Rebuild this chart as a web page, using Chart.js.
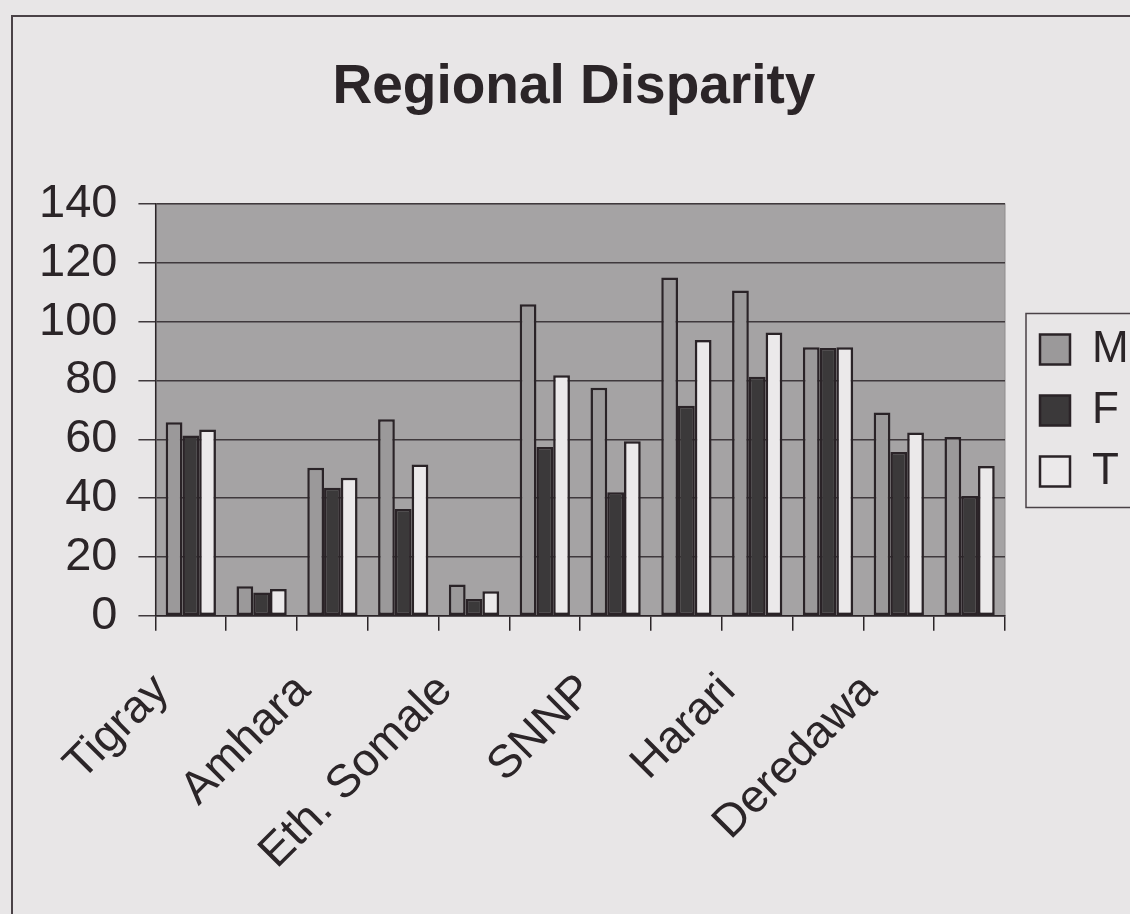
<!DOCTYPE html>
<html>
<head>
<meta charset="utf-8">
<title>Regional Disparity</title>
<script src="https://cdn.jsdelivr.net/npm/chart.js@4/dist/chart.umd.min.js"></script>
<style>
  html, body { margin: 0; padding: 0; background: #e8e6e7; overflow: hidden; }
  #frame {
    position: absolute; left: 11px; top: 15px; width: 1200px; height: 1000px;
    border: 2px solid #4a4247; box-sizing: border-box;
  }
  #wrap { position: absolute; left: 0; top: 0; width: 1130px; height: 914px; }
</style>
</head>
<body>
<div id="frame"></div>
<div id="wrap"><canvas id="chart" width="1130" height="914"></canvas></div>
<script>
// Regions (every other name is printed on the axis)
const regions = ['Tigray', 'Afar', 'Amhara', 'Oromia', 'Eth. Somale', 'Benishangul',
                 'SNNP', 'Gambella', 'Harari', 'Addis Ababa', 'Deredawa', 'Total'];

// Series values
const maleValues   = [65.8, 10.0, 50.3, 66.8, 10.6, 105.9, 77.5, 115.0, 110.6, 91.3, 69.1, 60.8];
const femaleValues = [61.3,  7.9, 43.5, 36.3,  5.7,  57.4, 42.0,  71.4,  81.3, 91.0, 55.7, 40.7];
const totalValues  = [63.3,  9.1, 46.9, 51.4,  8.3,  81.8, 59.3,  93.8,  96.3, 91.3, 62.3, 50.9];

// Value axis ticks
const yTicks = [0, 20, 40, 60, 80, 100, 120, 140];

const FONT = "'Liberation Sans', Arial, Helvetica, sans-serif";
const INK = '#2b2528';
const EDGE = '#2a2327';

// Grey plot-area fill behind the bars
const plotBackground = {
  id: 'plotBackground',
  beforeDraw(chart) {
    const { ctx, chartArea: a } = chart;
    ctx.save();
    ctx.fillStyle = '#a5a3a4';
    ctx.fillRect(a.left, a.top, a.right - a.left, a.bottom - a.top);
    ctx.strokeStyle = '#8f8c8e';
    ctx.lineWidth = 1;
    ctx.strokeRect(a.left, a.top, a.right - a.left, a.bottom - a.top);
    ctx.restore();
  }
};

// Fixed-width legend column, nudged right of the plot area, with a frame around it
const legendColumn = {
  id: 'legendColumn',
  beforeInit(chart) {
    const lg = chart.legend;
    const fit = lg.fit;
    lg.fit = function () { fit.call(this); this.width = 125; };
  },
  afterLayout(chart) {
    const lg = chart.legend;
    lg.left += 18; lg.right += 18;
    lg.top -= 46; lg.bottom -= 46;
  },
  afterDraw(chart) {
    const lg = chart.legend;
    const hb = lg.legendHitBoxes;
    if (!hb || !hb.length) return;
    const top = hb[0].top - 14;
    const bottom = hb[hb.length - 1].top + hb[hb.length - 1].height + 14;
    const left = hb[0].left - 14;
    const ctx = chart.ctx;
    ctx.save();
    ctx.strokeStyle = '#4a4247';
    ctx.lineWidth = 1.5;
    ctx.strokeRect(left, top, 1200 - left, bottom - top);
    ctx.restore();
  }
};

const barStyle = { borderColor: EDGE, borderWidth: 2.5, borderSkipped: false };

new Chart(document.getElementById('chart'), {
  type: 'bar',
  data: {
    labels: regions,
    datasets: [
      { label: 'M', data: maleValues,   backgroundColor: '#9b999a', ...barStyle },
      { label: 'F', data: femaleValues, backgroundColor: '#3b393a', ...barStyle },
      { label: 'T', data: totalValues,  backgroundColor: '#ebe9ea', ...barStyle }
    ]
  },
  options: {
    responsive: false,
    animation: false,
    events: [],
    layout: { padding: { left: 18, right: 0, top: 0, bottom: 1 } },
    datasets: { bar: { categoryPercentage: 0.71, barPercentage: 1.0 } },
    scales: {
      x: {
        offset: true,
        grid: {
          display: true, offset: true, drawOnChartArea: false, drawTicks: true,
          tickLength: 15, color: INK, lineWidth: 1.5
        },
        border: { display: true, color: INK, width: 1.5 },
        ticks: {
          autoSkip: false, minRotation: 45, maxRotation: 45, padding: 33, labelOffset: -29,
          color: INK, font: { family: FONT, size: 46 },
          callback: (v, i) => (i % 2 === 0 ? regions[i] : '')
        }
      },
      y: {
        min: yTicks[0], max: yTicks[yTicks.length - 1],
        afterBuildTicks(axis) { axis.ticks = yTicks.map(v => ({ value: v })); },
        grid: { color: '#3f393c', lineWidth: 1.5, drawTicks: true, tickLength: 17 },
        border: { display: true, color: INK, width: 1.5 },
        ticks: { autoSkip: false, stepSize: 20, padding: 21, color: INK, font: { family: FONT, size: 47 } }
      }
    },
    plugins: {
      title: {
        display: true, text: 'Regional Disparity', color: INK,
        font: { family: FONT, size: 55, weight: 'bold' },
        padding: { top: 55, bottom: 83 }
      },
      legend: {
        position: 'right', align: 'center',
        labels: {
          color: INK, font: { family: FONT, size: 44 },
          boxWidth: 30, boxHeight: 30, padding: 17
        }
      },
      tooltip: { enabled: false }
    }
  },
  plugins: [plotBackground, legendColumn]
});
</script>
</body>
</html>
